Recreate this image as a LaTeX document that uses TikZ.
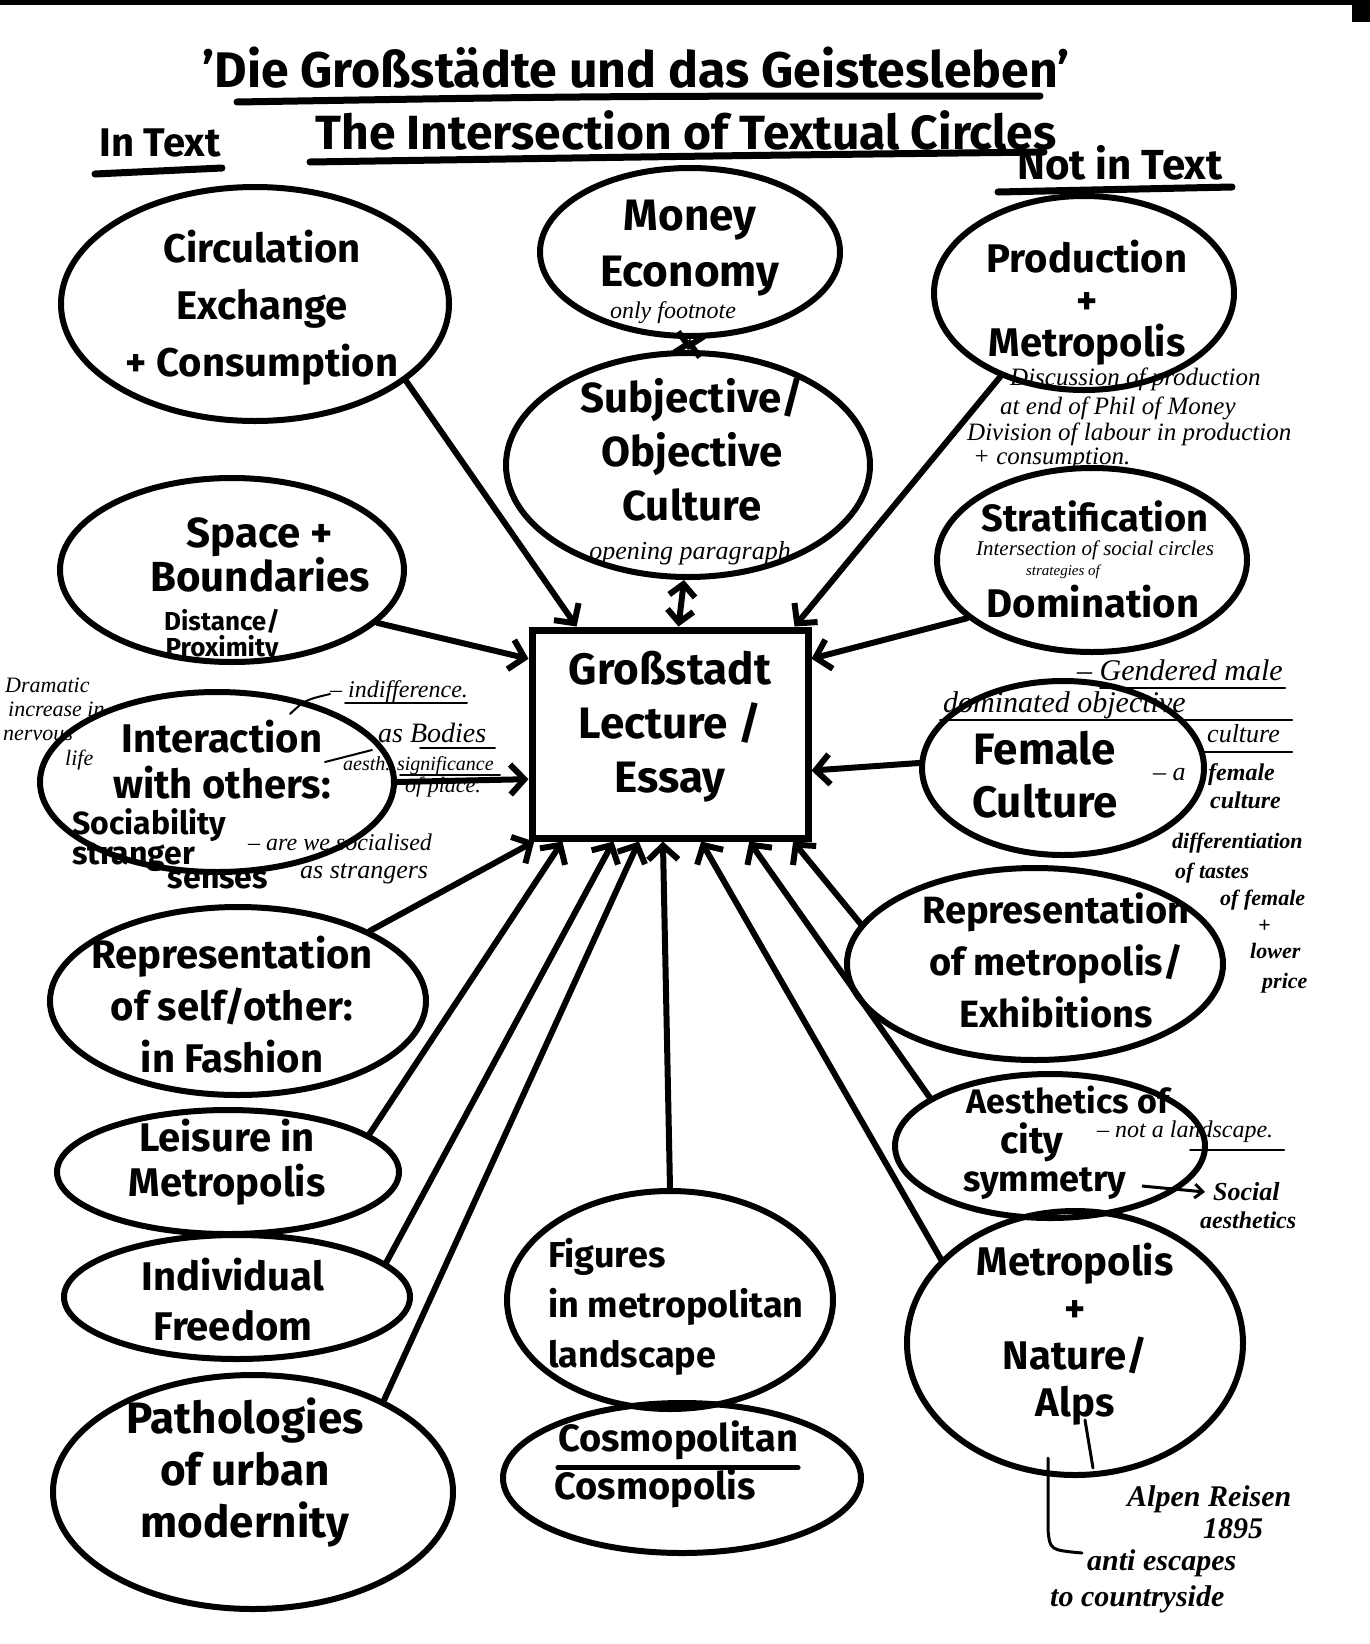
\documentclass[tikz,border=0pt]{standalone}
\usepackage{fontspec}
\setmainfont{Fira Sans}
\newfontfamily\notefont{Liberation Serif}
\usetikzlibrary{shapes.geometric,arrows.meta,calc}
\begin{document}
\begin{tikzpicture}[x=1pt,y=-1pt,
  bubble/.style={draw,ellipse,line width=6pt,inner sep=0pt},
  boxnode/.style={draw,rectangle,line width=7pt,inner sep=0pt},
  lbl/.style 2 args={align=center,inner sep=0pt,font=\bfseries\fontsize{#1}{#2}\selectfont},
  note/.style={inner sep=0pt,anchor=base west,font=\notefont\itshape\fontsize{#1}{#1}\selectfont},
  bnote/.style={inner sep=0pt,anchor=base west,font=\notefont\itshape\bfseries\fontsize{#1}{#1}\selectfont},
  conn/.style={line width=6pt,line cap=round,-{Straight Barb[length=14pt,width=30pt]}},
  biconn/.style={line width=6pt,{Straight Barb[length=12pt,width=26pt]}-{Straight Barb[length=12pt,width=26pt]}},
  uline/.style={line width=6pt,line cap=round},
  thin/.style={line width=2pt,line cap=round}
]
\fill[white] (0,0) rectangle (1370,1644);
\useasboundingbox (0,0) rectangle (1370,1644);
% scan edge
\fill[black] (0,0) rectangle (1370,5);
\fill[black] (1352,0) rectangle (1370,22);

% ---- titles
\node[lbl={50}{56}] (title) at (636,68) {'Die Großstädte und das Geistesleben'};
\draw[uline,line width=7pt] (237,102) .. controls (600,96) .. (1040,96);
\node[lbl={48}{54}] (subtitle) at (686,130) {The Intersection of Textual Circles};
\draw[uline,line width=7pt] (310,162) .. controls (700,156) .. (1044,152);
\node[lbl={40}{44}] (intext) at (160,143) {In Text};
\draw[uline,line width=7pt] (95,174) -- (222,168);
\node[lbl={42}{46}] (notintext) at (1120,163) {Not in Text};
\draw[uline,line width=7pt] (998,192) -- (1232,187);

% ---- ellipses
\node[bubble,minimum width=388,minimum height=234] (circ) at (255,304) {};
\node[bubble,minimum width=300,minimum height=168] (money) at (690,252) {};
\node[bubble,minimum width=364,minimum height=224] (subj) at (688,465) {};
\node[bubble,minimum width=300,minimum height=194] (prod) at (1084,293) {};
\node[bubble,minimum width=344,minimum height=184] (space) at (232,570) {};
\node[bubble,minimum width=310,minimum height=184] (strat) at (1092,560) {};
\node[boxnode,minimum width=276,minimum height=208] (box) at (670,734) {};
\node[bubble,minimum width=354,minimum height=180] (inter) at (217,782) {};
\node[bubble,minimum width=282,minimum height=174] (fem) at (1063,768) {};
\node[bubble,minimum width=376,minimum height=188] (reps) at (238,1001) {};
\node[bubble,minimum width=376,minimum height=192] (repm) at (1035,964) {};
\node[bubble,minimum width=342,minimum height=124] (leis) at (228,1172) {};
\node[bubble,minimum width=310,minimum height=144] (aes) at (1050,1146) {};
\node[bubble,minimum width=346,minimum height=124] (free) at (237,1297) {};
\node[bubble,minimum width=326,minimum height=218] (fig) at (670,1300) {};
\node[bubble,minimum width=358,minimum height=150] (cos) at (682,1478) {};
\node[bubble,minimum width=336,minimum height=264] (alps) at (1075,1343) {};
\node[bubble,minimum width=400,minimum height=234] (path) at (253,1492) {};

% ---- main labels
\node[lbl={40}{57}] (circT) at (262,308) {Circulation\\Exchange\\+ Consumption};
\node[lbl={44}{56}] (moneyT) at (690,248) {Money\\Economy};
\node[note=24,anchor=center] (moneyN) at (673,313) {only footnote};
\node[lbl={42}{54}] (subjT) at (692,450) {Subjective/\\Objective\\Culture};
\node[note=26,anchor=center] (subjN) at (690,553) {opening paragraph};
\node[lbl={40}{42}] (prodT) at (1087,303) {Production\\+\\Metropolis};
\node[lbl={42}{44}] (spaceT) at (260,555) {Space +\\Boundaries};
\node[lbl={26}{26}] (spaceS) at (222,636) {Distance/\\Proximity};
\node[lbl={38}{40}] (stratT) at (1095,516) {Stratification};
\node[note=21,anchor=center] (stratN1) at (1095,550) {Intersection of social circles};
\node[note=15,anchor=center] (stratN2) at (1063,572) {strategies of};
\node[lbl={40}{44}] (stratT2) at (1093,602) {Domination};
\node[lbl={44}{54}] (boxT) at (670,727) {Großstadt\\Lecture /\\Essay};
\node[lbl={40}{46}] (interT) at (222,760) {Interaction\\with others:};
\node[lbl={32}{30},align=left,anchor=west] (sociT) at (72,840) {Sociability\\stranger};
\node[lbl={32}{30}] (sensT) at (218,880) {senses};
\node[lbl={44}{53}] (femT) at (1045,775) {Female\\Culture};
\node[lbl={40}{52}] (repsT) at (232,1005) {Representation\\of self/other:\\in Fashion};
\node[lbl={38}{52}] (repmT) at (1056,960) {Representation\\of metropolis/\\Exhibitions};
\node[lbl={40}{45}] (leisT) at (227,1162) {Leisure in\\Metropolis};
\node[lbl={34}{40}] (aesT1) at (1068,1100) {Aesthetics of};
\node[lbl={38}{40}] (aesT2) at (1032,1142) {city};
\node[lbl={36}{40}] (aesT3) at (1045,1184) {symmetry};
\node[lbl={40}{50}] (freeT) at (233,1300) {Individual\\Freedom};
\node[lbl={36}{50},align=left,anchor=west] (figT) at (548,1307) {Figures\\in metropolitan\\landscape};
\node[lbl={38}{40}] (cosT1) at (678,1440) {Cosmopolitan};
\draw[uline,line width=5pt] ([yshift=-8pt]cosT1.south west) -- ([yshift=-8pt]cosT1.south east);
\node[lbl={38}{40}] (cosT2) at (655,1488) {Cosmopolis};
\node[lbl={40}{47}] (alpsT) at (1075,1334) {Metropolis\\+\\Nature/\\Alps};
\node[lbl={44}{52}] (pathT) at (245,1473) {Pathologies\\of urban\\modernity};

% ---- connectors
\draw[conn] (circ.-27) -- ($(box.north west)!0.17!(box.north east)$);
\draw[biconn] (subj.-92) -- ($(box.north west)!0.53!(box.north east)$);
\draw[biconn] (money.south) -- (subj.north);
\draw[conn] (prod.-135) -- ($(box.north west)!0.94!(box.north east)$);
\draw[conn] (space.-20) -- ($(box.north west)!0.15!(box.south west)$);
\draw[conn] (strat.-155) -- ($(box.north east)!0.15!(box.south east)$);
\draw[conn] (inter.0) -- ($(box.north west)!0.71!(box.south west)$);
\draw[conn] (fem.178) -- ($(box.north east)!0.67!(box.south east)$);
\draw[conn] (reps.28) -- ($(box.south west)!0.02!(box.south east)$);
\draw[conn] (leis.15) -- ($(box.south west)!0.12!(box.south east)$);
\draw[conn] (free.13) -- ($(box.south west)!0.30!(box.south east)$);
\draw[conn] (path.35) -- ($(box.south west)!0.39!(box.south east)$);
\draw[conn] (fig.north) -- ($(box.south west)!0.475!(box.south east)$);
\draw[conn] (alps.148) -- ($(box.south west)!0.61!(box.south east)$);
\draw[conn] (aes.158) -- ($(box.south west)!0.78!(box.south east)$);
\draw[conn] (repm.167) -- ($(box.south west)!0.935!(box.south east)$);

% ---- notes: production
\node[note=25] (pn1) at (1010,385) {Discussion of production};
\node[note=25] (pn2) at (1000,414) {at end of Phil of Money};
\node[note=25] (pn3) at (967,440) {Division of labour in production};
\node[note=25] (pn4) at (973,464) {+ consumption.};

% ---- notes: interaction
\node[note=22] (in1) at (5,692) {Dramatic};
\node[note=22] (in2) at (8,716) {increase in};
\node[note=22] (in3) at (3,740) {nervous};
\node[note=22] (in4) at (65,765) {life};
\node[note=24] (in5) at (330,697) {– indifference.};
\draw[thin] (345,703) -- (467,703);
\draw[thin] (290,714) .. controls (305,700) .. (330,694);
\node[note=28] (in6) at (378,742) {as Bodies};
\draw[thin] (420,748) -- (495,748);
\draw[thin] (325,762) -- (372,750);
\node[note=20] (in7) at (343,770) {aesth. significance};
\draw[thin] (400,775) -- (500,775);
\node[note=22] (in8) at (405,792) {of place.};
\node[note=24] (in9) at (248,850) {– are we socialised};
\node[note=26] (in10) at (300,878) {as strangers};

% ---- notes: female culture
\node[note=30] (fn1) at (1077,680) {– Gendered male};
\draw[thin] (1100,688) -- (1285,688);
\node[note=30] (fn2) at (943,712) {dominated objective};
\draw[thin] (940,720) -- (1292,720);
\node[note=26] (fn3) at (1207,742) {culture};
\draw[thin] (1200,752) -- (1292,752);
\node[note=26] (fn4) at (1153,780) {– a};
\node[bnote=24] (fn5) at (1208,780) {female};
\node[bnote=24] (fn6) at (1210,808) {culture};
\node[bnote=22] (fn7) at (1172,848) {differentiation};
\node[bnote=22] (fn8) at (1175,878) {of tastes};
\node[bnote=22] (fn9) at (1220,905) {of female};
\node[bnote=22] (fn10) at (1258,932) {+};
\node[bnote=22] (fn11) at (1250,958) {lower};
\node[bnote=22] (fn12) at (1262,988) {price};

% ---- notes: aesthetics
\node[note=24] (an1) at (1097,1137) {– not a landscape.};
\draw[thin] (1190,1150) -- (1284,1150);
\coordinate (symend) at (1142,1186);
\draw[line width=3pt,-{Straight Barb[length=8pt,width=14pt]}] (symend) -- (1205,1192);
\node[bnote=26] (an2) at (1213,1200) {Social};
\node[bnote=24] (an3) at (1200,1228) {aesthetics};

% ---- notes: alps
\draw[line width=3pt,line cap=round] (1085,1420) -- (1093,1468);
\coordinate (brtop) at (1048,1458);
\draw[line width=3pt,line cap=round] (brtop) -- (1048,1530) .. controls (1050,1550) .. (1082,1553);
\node[bnote=30] (al1) at (1127,1506) {Alpen Reisen};
\node[bnote=30] (al2) at (1203,1538) {1895};
\node[bnote=30] (al3) at (1087,1570) {anti escapes};
\node[bnote=30] (al4) at (1050,1606) {to countryside};
\end{tikzpicture}
\end{document}
